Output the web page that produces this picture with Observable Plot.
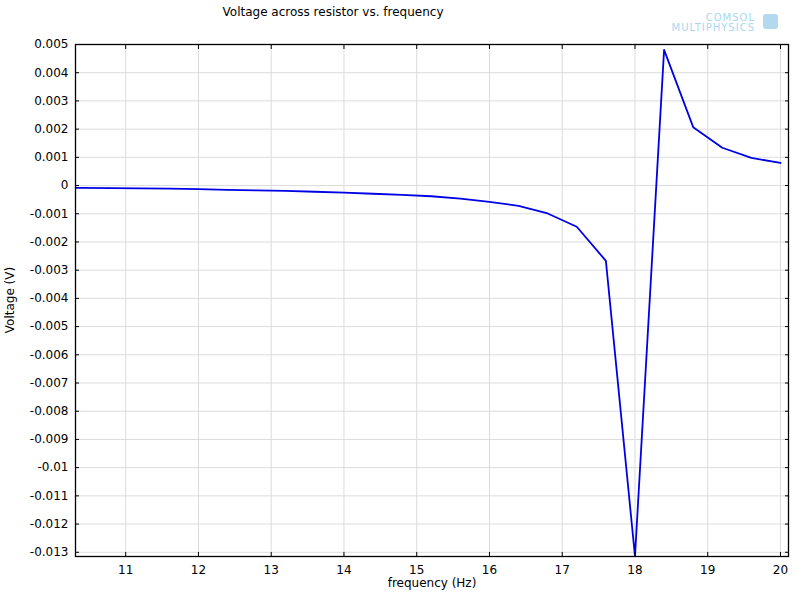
<!DOCTYPE html>
<html>
<head>
<meta charset="utf-8">
<script src="https://cdn.jsdelivr.net/npm/d3@7"></script>
<script src="https://cdn.jsdelivr.net/npm/@observablehq/plot@0.6"></script>
<style>
  html, body { margin: 0; padding: 0; background: #fff; }
  #chart svg { font-family: "DejaVu Sans", sans-serif; }
</style>
</head>
<body>
<div id="chart"></div>
<script>
const titleText = "Voltage across resistor vs. frequency";
const xLabel = "frequency (Hz)";
const yLabel = "Voltage (V)";

const frequency = [10.0, 10.4, 10.8, 11.2, 11.6, 12.0, 12.4, 12.8, 13.2, 13.6, 14.0, 14.4, 14.8,
  15.2, 15.6, 16.0, 16.4, 16.8, 17.2, 17.6, 18.0, 18.4, 18.8, 19.2, 19.6, 20.0];
const voltage = [-0.00008, -0.000085, -0.00009, -0.0001, -0.00011, -0.00013, -0.00015, -0.00017,
  -0.00019, -0.00022, -0.00025, -0.00029, -0.00033, -0.00038, -0.00046, -0.00058, -0.00072,
  -0.00099, -0.00146, -0.00267, -0.01314, 0.00481, 0.00207, 0.00134, 0.00098, 0.00080];

const xTicks = [11, 12, 13, 14, 15, 16, 17, 18, 19, 20];
const yTicks = [-0.013, -0.012, -0.011, -0.01, -0.009, -0.008, -0.007, -0.006, -0.005, -0.004,
  -0.003, -0.002, -0.001, 0, 0.001, 0.002, 0.003, 0.004, 0.005];

const data = frequency.map((f, i) => ({f, v: voltage[i]}));
const fmt = d => String(d);
const blank = () => "";

const plot = Plot.plot({
  width: 800,
  height: 600,
  marginLeft: 75,
  marginRight: 12,
  marginTop: 44,
  marginBottom: 44,
  style: {fontFamily: "DejaVu Sans, sans-serif", fontSize: "12px", color: "#000", background: "#fff"},
  x: {domain: [10.31, 20.11]},
  y: {domain: [-0.01315, 0.005]},
  marks: [
    Plot.gridX(xTicks, {stroke: "#dcdcdc", strokeOpacity: 1}),
    Plot.gridY(yTicks, {stroke: "#dcdcdc", strokeOpacity: 1}),
    Plot.line(data, {x: "f", y: "v", stroke: "#0000e6", strokeWidth: 1.8, clip: true}),
    Plot.axisX(xTicks, {anchor: "bottom", tickSize: 0, tickPadding: 9, tickFormat: fmt, label: null, fontSize: 12}),
    Plot.axisX(xTicks, {anchor: "bottom", tickSize: -4, tickFormat: blank, label: null}),
    Plot.axisX(xTicks, {anchor: "top", tickSize: -4, tickFormat: blank, label: null}),
    Plot.axisY(yTicks, {anchor: "left", tickSize: 0, tickPadding: 7, tickFormat: fmt, label: null, fontSize: 12}),
    Plot.axisY(yTicks, {anchor: "left", tickSize: -4, tickFormat: blank, label: null}),
    Plot.axisY(yTicks, {anchor: "right", tickSize: -4, tickFormat: blank, label: null}),
    Plot.frame({stroke: "#000", strokeWidth: 1.3})
  ]
});

const svg = d3.select(plot);
svg.append("text").attr("x", 333).attr("y", 16).attr("text-anchor", "middle")
  .attr("font-size", 12).attr("fill", "#000").text(titleText);
svg.append("text").attr("x", 432).attr("y", 587).attr("text-anchor", "middle")
  .attr("font-size", 12).attr("fill", "#000").text(xLabel);
svg.append("text").attr("transform", "translate(14,300) rotate(-90)").attr("text-anchor", "middle")
  .attr("font-size", 12).attr("fill", "#000").text(yLabel);
svg.append("text").attr("x", 755).attr("y", 21).attr("text-anchor", "end")
  .attr("font-size", 10).attr("fill", "#a9d8ee").attr("letter-spacing", 1).text("COMSOL");
svg.append("text").attr("x", 755).attr("y", 31).attr("text-anchor", "end")
  .attr("font-size", 10).attr("fill", "#a9d8ee").attr("letter-spacing", 1).text("MULTIPHYSICS");
svg.append("rect").attr("x", 763).attr("y", 14).attr("width", 15).attr("height", 15)
  .attr("rx", 3).attr("fill", "#9fd0ea").attr("opacity", 0.8);

document.getElementById("chart").appendChild(plot);
</script>
</body>
</html>
